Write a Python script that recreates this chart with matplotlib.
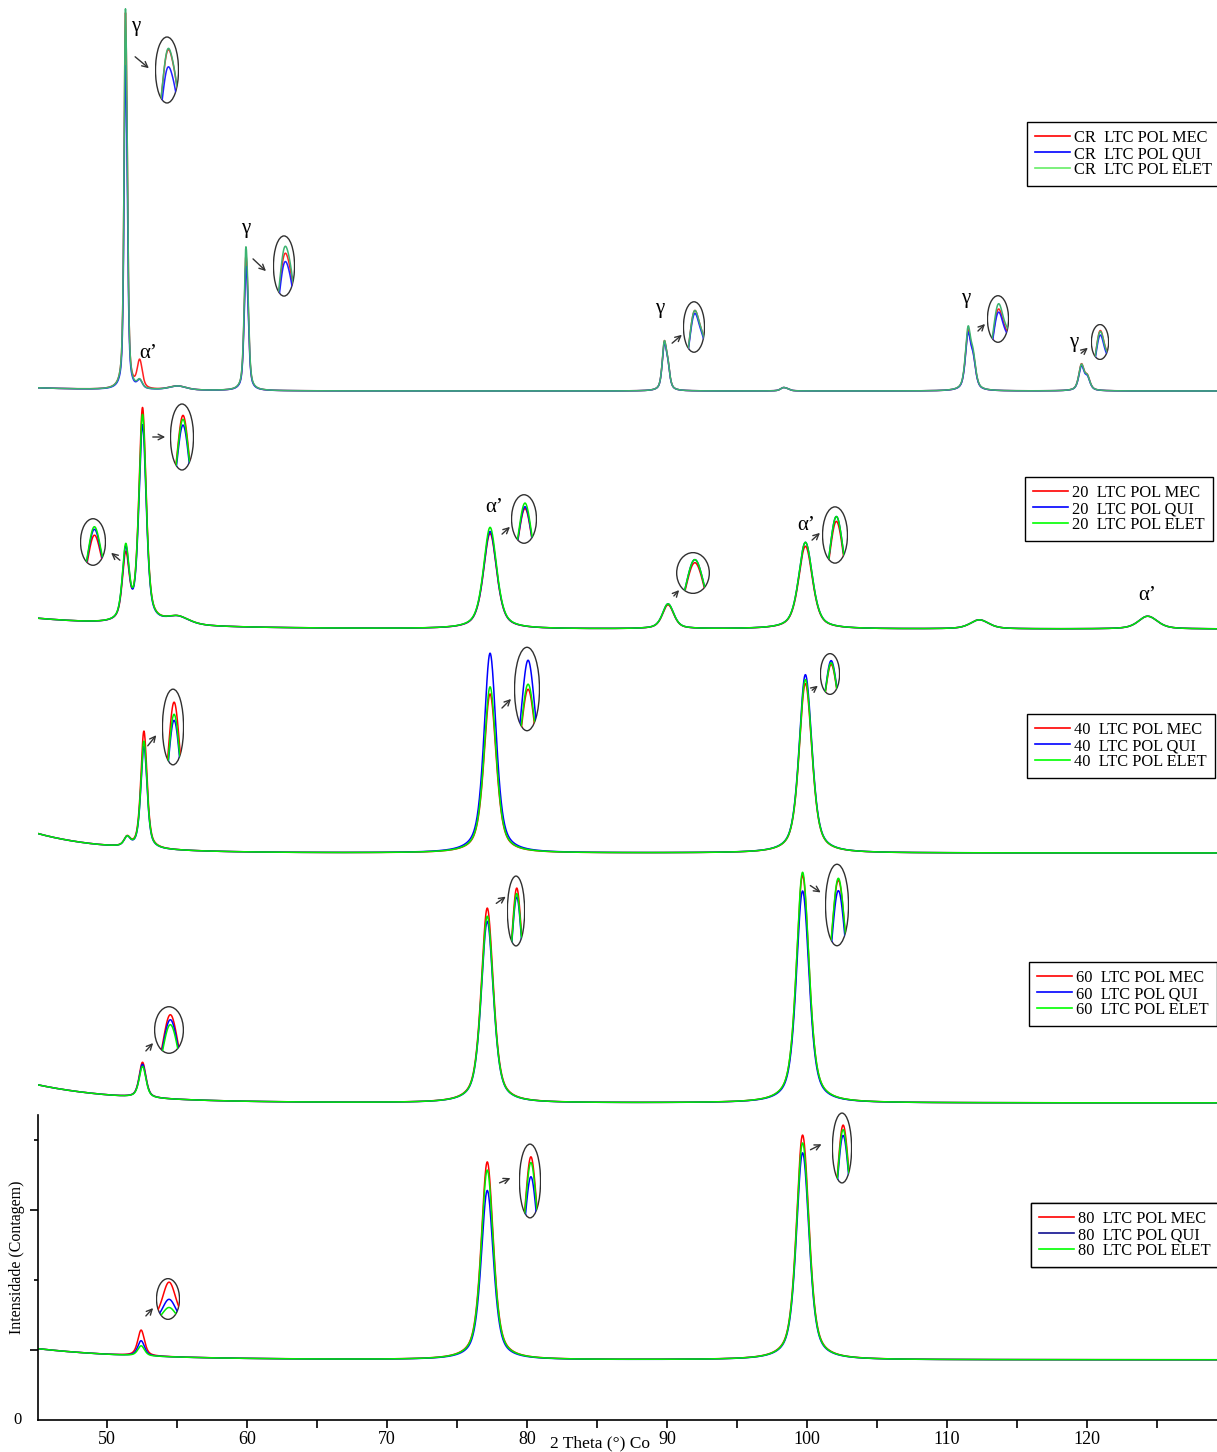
import numpy as np
import matplotlib.pyplot as plt
from matplotlib.patches import Ellipse
from matplotlib.lines import Line2D

plt.rcParams['font.family'] = ['Liberation Serif', 'DejaVu Serif']

W, H = 1217, 1452
PX = 0.07          # figure pixels per count
DLAM = 0.00217     # Co K-alpha2 / K-alpha1 relative wavelength shift

two_theta = np.arange(45.0, 129.4, 0.02)
suffixes = ['LTC POL MEC', 'LTC POL QUI', 'LTC POL ELET']

# ---------------- data (peak tables) ----------------
cr_offset, cr_bg = 14700, (45, 6)
cr_pos = [51.3, 52.3, 55.0, 59.9, 89.8, 98.3, 111.5, 119.6]
cr_fwhm = [0.22, 0.40, 1.5, 0.28, 0.35, 0.5, 0.45, 0.45]
cr_red = [4300, 280, 40, 1520, 620, 40, 780, 360]
cr_blue = [3700, 80, 40, 1400, 600, 40, 750, 335]
cr_green = [4350, 80, 40, 1620, 620, 40, 830, 355]

s20_offset, s20_bg = 11300, (150, 8)
s20_pos = [51.3, 52.5, 55.0, 77.3, 90.0, 99.8, 112.2, 124.2]
s20_fwhm = [0.55, 0.6, 2.0, 1.1, 0.9, 1.1, 1.5, 1.5]
s20_red = [640, 2110, 80, 930, 240, 830, 90, 130]
s20_blue = [700, 1940, 80, 950, 250, 870, 90, 130]
s20_green = [720, 2040, 80, 990, 250, 870, 90, 130]

s40_offset, s40_bg = 8100, (280, 5)
s40_pos = [51.4, 52.6, 77.3, 99.8]
s40_fwhm = [0.5, 0.5, 1.0, 1.0]
s40_red = [90, 1170, 1560, 1720]
s40_blue = [90, 1020, 1960, 1810]
s40_green = [90, 1070, 1630, 1760]

s60_offset, s60_bg = 4530, (260, 6)
s60_pos = [52.5, 77.1, 99.6]
s60_fwhm = [0.55, 1.0, 1.0]
s60_red = [350, 1910, 2310]
s60_blue = [330, 1780, 2150]
s60_green = [310, 1830, 2340]

s80_offset, s80_bg = 860, (160, 7)
s80_pos = [52.4, 77.1, 99.6]
s80_fwhm = [0.55, 1.0, 1.0]
s80_red = [255, 1940, 2280]
s80_blue = [150, 1660, 2100]
s80_green = [100, 1860, 2200]


def profile(x, pos, fwhm, heights, eta=0.6):
    y = np.zeros_like(x)
    for p, w, h in zip(pos, fwhm, heights):
        shift = np.degrees(2 * np.tan(np.radians(p / 2)) * DLAM)
        for ratio, pp in ((1.0, p), (0.5, p + shift)):
            d = (x - pp) / w
            y += h * ratio * (eta / (1 + 4 * d * d) + (1 - eta) * np.exp(-4 * np.log(2) * d * d))
    return y


def background(x, offset, bg):
    amp, tau = bg
    return offset + amp * np.exp(-(x - 45) / tau)


samples = [
    dict(tag='CR', offset=cr_offset, bg=cr_bg, pos=cr_pos, fwhm=cr_fwhm,
         heights=[cr_red, cr_blue, cr_green],
         colors=['#ff2020', '#2020ff', '#3cb371'],
         legend_colors=['#ff0000', '#0000ff', '#66ee66'],
         legend_at=(1027, 122),
         insets=[(0, 167, 70, 24, 68, (133, 55), (151, 70)),
                 (3, 284, 266, 22, 62, (251, 257), (268, 273)),
                 (4, 694, 327, 22, 52, (670, 345), (684, 333)),
                 (6, 998, 319, 22, 48, (976, 333), (987, 322)),
                 (7, 1100, 342, 18, 36, (1079, 355), (1090, 346))],
         labels=[('γ', 136, 27), ('α’', 148, 354), ('γ', 246, 228),
                 ('γ', 660, 308), ('γ', 966, 298), ('γ', 1074, 342)]),
    dict(tag='20', offset=s20_offset, bg=s20_bg, pos=s20_pos, fwhm=s20_fwhm,
         heights=[s20_red, s20_blue, s20_green],
         colors=['#ff0000', '#0000ff', '#00ee00'],
         legend_colors=['#ff0000', '#0000ff', '#00ff00'],
         legend_at=(1025, 477),
         insets=[(1, 182, 437, 24, 68, (150, 437), (168, 437)),
                 (0, 93, 542, 26, 48, (122, 562), (109, 551)),
                 (3, 524, 519, 26, 50, (500, 536), (512, 525)),
                 (4, 693, 573, 34, 42, (672, 598), (681, 588)),
                 (5, 835, 535, 26, 58, (810, 542), (822, 531))],
         labels=[('α’', 494, 507), ('α’', 806, 525), ('α’', 1147, 595)]),
    dict(tag='40', offset=s40_offset, bg=s40_bg, pos=s40_pos, fwhm=s40_fwhm,
         heights=[s40_red, s40_blue, s40_green],
         colors=['#ff0000', '#0000ff', '#00ee00'],
         legend_colors=['#ff0000', '#0000ff', '#00ff00'],
         legend_at=(1027, 714),
         insets=[(1, 173, 727, 22, 78, (146, 748), (158, 733)),
                 (2, 527, 689, 26, 86, (500, 710), (513, 697)),
                 (3, 830, 674, 20, 42, (810, 692), (820, 684))],
         labels=[]),
    dict(tag='60', offset=s60_offset, bg=s60_bg, pos=s60_pos, fwhm=s60_fwhm,
         heights=[s60_red, s60_blue, s60_green],
         colors=['#ff0000', '#0000ff', '#00ee00'],
         legend_colors=['#ff0000', '#0000ff', '#00ff00'],
         legend_at=(1029, 962),
         insets=[(0, 169, 1030, 30, 48, (144, 1053), (155, 1041)),
                 (1, 516, 911, 18, 72, (494, 905), (508, 895)),
                 (2, 837, 905, 24, 84, (808, 884), (823, 894))],
         labels=[]),
    dict(tag='80', offset=s80_offset, bg=s80_bg, pos=s80_pos, fwhm=s80_fwhm,
         heights=[s80_red, s80_blue, s80_green],
         colors=['#ff0000', '#0000ff', '#00ee00'],
         legend_colors=['#ff0000', '#101090', '#00ff00'],
         legend_at=(1031, 1203),
         insets=[(0, 168, 1299, 24, 42, (144, 1318), (155, 1306)),
                 (1, 530, 1181, 22, 76, (497, 1184), (513, 1177)),
                 (2, 842, 1148, 20, 72, (808, 1151), (824, 1143))],
         labels=[]),
]


def fig_xy(xp, yp):
    return xp / W, 1 - yp / H


fig = plt.figure(figsize=(W / 100, H / 100), dpi=100)
ax = fig.add_axes([38 / W, (H - 1420) / H, (W - 38) / W, 1420 / H])
x0 = 50 + (38 - 107) / 14
x1 = 50 + (W - 107) / 14
ax.set_xlim(x0, x1)
ax.set_ylim(0, 1420 / PX)

for s in samples:
    base = background(two_theta, s['offset'], s['bg'])
    for hts, col in zip(s['heights'], s['colors']):
        ax.plot(two_theta, base + profile(two_theta, s['pos'], s['fwhm'], hts),
                color=col, lw=1.1)

    # legend
    handles = [Line2D([], [], color=c, lw=1.2) for c in s['legend_colors']]
    names = [f"{s['tag']}  {t}" for t in suffixes]
    leg = ax.legend(handles, names, loc='upper left',
                    bbox_to_anchor=fig_xy(*s['legend_at']), bbox_transform=fig.transFigure,
                    fancybox=False, edgecolor='black', framealpha=1, fontsize=11.8,
                    handlelength=2.1, handletextpad=0.25, labelspacing=0.0,
                    borderpad=0.5, borderaxespad=0)
    leg.get_frame().set_linewidth(1.0)
    ax.add_artist(leg)

    # zoomed peak tips in ellipses
    for idx, cx, cy, ew, eh, tail, head in s['insets']:
        p, w = s['pos'][idx], s['fwhm'][idx]
        xs = np.linspace(p - 0.75 * w, p + 0.75 * w, 80)
        curves = [background(xs, s['offset'], s['bg']) +
                  profile(xs, s['pos'], s['fwhm'], hts) for hts in s['heights']]
        top = max(c.max() for c in curves)
        low_top = min(c.max() for c in curves)
        bottom = background(np.array([p]), s['offset'], s['bg'])[0]
        frac = max(0.45, (top - low_top) / (top - bottom) + 0.3)
        l, b = fig_xy(cx - ew / 2, cy + eh / 2)
        iax = fig.add_axes([l, b, ew / W, eh / H])
        iax.axis('off')
        iax.patch.set_visible(False)
        iax.set_xlim(xs[0], xs[-1])
        iax.set_ylim(top - frac * (top - bottom), top + 0.1 * (top - bottom))
        ell = Ellipse((0.5, 0.5), 0.96, 0.97, transform=iax.transAxes,
                      fc='none', ec='#303030', lw=1.0)
        iax.add_patch(ell)
        for c, col in zip(curves, s['colors']):
            ln, = iax.plot(xs, c, color=col, lw=1.1)
            ln.set_clip_path(ell)
        ax.annotate('', xy=fig_xy(*head), xytext=fig_xy(*tail),
                    xycoords='figure fraction', textcoords='figure fraction',
                    arrowprops=dict(arrowstyle='->', color='#333333', lw=1.0))

    for txt, lx, ly in s['labels']:
        fig.text(*fig_xy(lx, ly), txt, fontsize=15, ha='center', va='center')

# axes styling
for side in ('top', 'right'):
    ax.spines[side].set_visible(False)
ax.spines['left'].set_bounds(0, (1420 - 1115) / PX)
ax.spines['left'].set_linewidth(1.2)
ax.spines['bottom'].set_linewidth(1.2)
ax.set_xticks([50, 60, 70, 80, 90, 100, 110, 120])
ax.set_xticks([55, 65, 75, 85, 95, 105, 115, 125], minor=True)
ax.tick_params(axis='x', which='major', length=6, width=1.2, labelsize=13, pad=2)
ax.tick_params(axis='x', which='minor', length=6, width=1.2)
ax.set_yticks([1000, 3000])
ax.set_yticklabels([])
ax.set_yticks([2000, 4000], minor=True)
ax.tick_params(axis='y', which='major', length=6, width=1.2)
ax.tick_params(axis='y', which='minor', length=3, width=1.2)

fig.text(*fig_xy(18, 1420), '0', fontsize=12, ha='center', va='center')
fig.text(*fig_xy(17, 1257), 'Intensidade (Contagem)', fontsize=11.5,
         rotation=90, ha='center', va='center')
fig.text(*fig_xy(600, 1443), '2 Theta (°) Co', fontsize=12.5, ha='center', va='center')

fig.savefig('out.png', dpi=100)
